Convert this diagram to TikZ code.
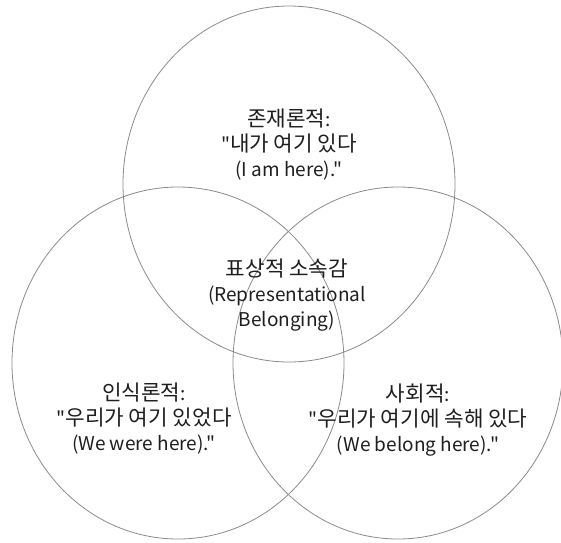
\documentclass[tikz,border=0pt]{standalone}
\usepackage{fontspec}
\setmainfont{Noto Sans CJK KR}[Ligatures=TeXOff]
\newfontfamily\hangul{Noto Sans CJK KR}[Scale=1.12]
\newcommand{\hg}[1]{{\hangul #1}}
\begin{document}
\begin{tikzpicture}[x=1pt, y=-1pt,
  vennring/.style={draw=ringgray, line width=0.8pt},
  venntext/.style={align=center, text=textdark, inner sep=0pt,
    font=\fontsize{19}{25}\selectfont}]
\definecolor{ringgray}{HTML}{8A8A8A}
\definecolor{textdark}{HTML}{1E1E1E}
\useasboundingbox (0,0) rectangle (561,542);
\clip (0,0) rectangle (561,542);
% three rings
\draw[vennring] (289,184) ellipse [x radius=166, y radius=178];
\draw[vennring] (178,363) ellipse [x radius=166, y radius=176];
\draw[vennring] (398,363) ellipse [x radius=165, y radius=176];
% labels
\node[venntext] (ontic) at (289,145) {\hg{존재론적}:\\"\hg{내가 여기 있다}\\(I am here)."};
\node[venntext] (core) at (287,295) {\hg{표상적 소속감}\\(Representational\\Belonging)};
\node[venntext] (episteme) at (144,419) {\hg{인식론적}:\\"\hg{우리가 여기 있었다}\\(We were here)."};
\node[venntext] (social) at (418,420) {\hg{사회적}:\\"\hg{우리가 여기에 속해 있다}\\(We belong here)."};
\end{tikzpicture}
\end{document}
